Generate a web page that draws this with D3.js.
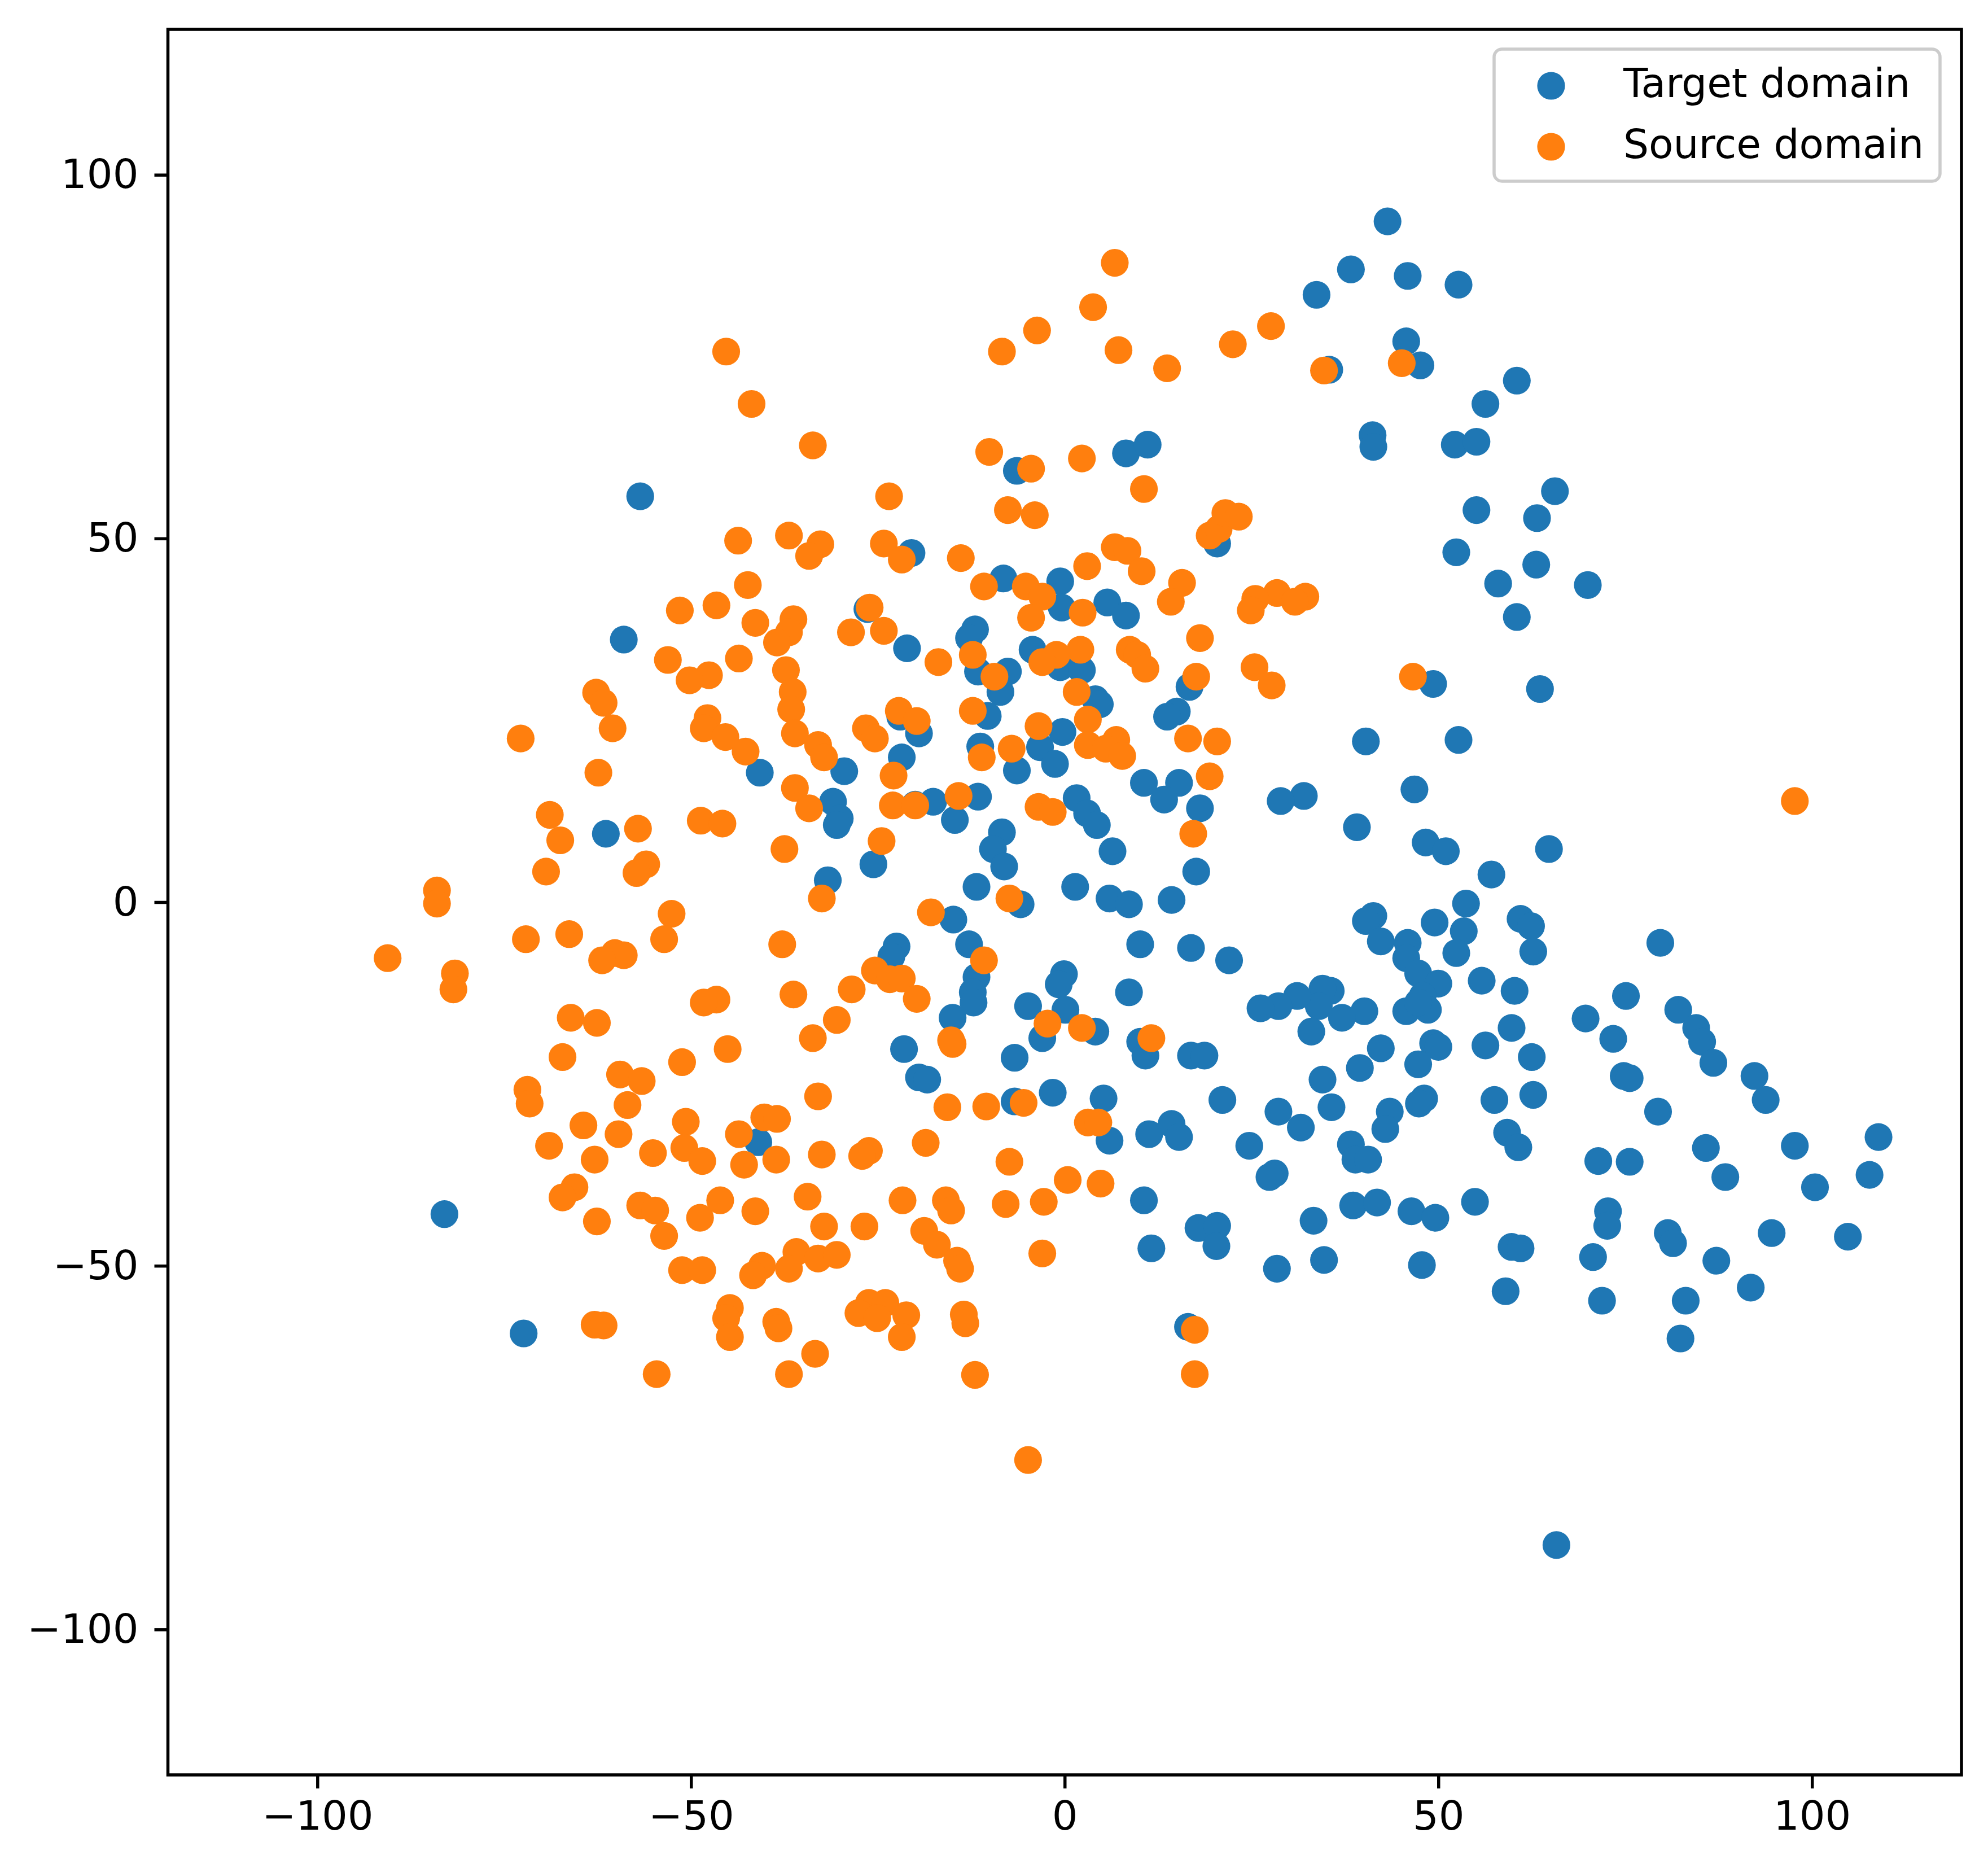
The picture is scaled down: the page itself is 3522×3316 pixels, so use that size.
<!DOCTYPE html>
<html><head><meta charset="utf-8">
<script src="https://cdn.jsdelivr.net/npm/d3@7/dist/d3.min.js"></script>
<style>html,body{margin:0;padding:0;background:#fff}svg{display:block}text{font-family:"DejaVu Sans";fill:#000}</style>
</head><body><svg id="c" width="3522" height="3316"></svg>
<script>
const seriesNames = ["Target domain","Source domain"];
const seriesColors = ["#1f77b4","#ff7f0e"];
const tickValues = [-100,-50,0,50,100];
const targetX = [43.3,38.4,46,52.8,33.8,45.8,47.7,35.5,60.6,56.4,41.3,41.4,52.3,55.2,65.7,55.2,63.3,52.5,63.2,58.1,70.1,60.6,49.4,63.7,40.4,52.8,46.9,39.2,32.1,29,48.4,51.1,64.9,57.2,53.8,53.5,52.5,61.1,62.5,62.8,49.6,41.4,40.4,42.4,46,45.8,47.4,55.9,50.1,48,60.3,45.8,48.7,47.4,40.2,37.2,35.7,34.6,34.1,31.2,28.7,26.3,33.1,42.4,49.4,50.1,56.4,59.9,62.6,47.4,39.6,34.6,48.2,47.5,57.6,62.8,35.8,28.7,43.6,43,31.7,59.3,60.8,38.4,24.8,39,40.7,28.2,27.5,38.7,41.9,46.5,49.7,55,33.4,34.8,47.9,28.5,59.9,61.1,59.1,70.8,72,72.8,72.7,71.5,75.7,69.8,73.5,75.2,79.8,82.2,84.6,85.4,86.9,74.9,75.7,79.5,92.4,93.9,85.9,88.5,97.8,109,100.5,107.8,104.9,94.7,80.8,81.5,87.3,91.9,83.2,82.5,65.9,
-56.7,-58.9,-6.3,8.3,11.2,-20.4,20.5,-8.1,-0.5,-0.3,5.8,8.3,-26.3,-11.9,-12.7,-4.2,-21,-11.5,-7.5,-8.5,-0.5,2.4,4.2,4.8,16.8,15.1,13.8,-10.2,-21.9,-19.4,-0.2,-11.2,-3.2,-21.7,-1.2,-6.3,-29.4,-40.7,10.7,15.4,1.7,13.4,-11.5,-19.9,-17.5,-30.9,3.1,18.2,-30,-30.4,-14.6,4.4,-61.3,-8.3,-9.5,6.5,-25.5,-8,17.7,-31.6,-11.7,1.5,6.1,8.7,14.4,-5.8,-14.8,-12.7,-22.4,-23.1,10.2,17,22.1,-11.7,0,-0.7,-12.2,-12.1,8.7,-4.8,0.2,-14.9,4.2,-2.9,10.2,10.9,17,18.8,-21.4,-6.6,-19.4,-18.3,-1.5,-6.6,5.3,21.2,6.1,11.4,14.4,15.4,-40.9,10.7,-82.9,18,20.5,20.4,11.7,-72.3,16.6];
const targetY = [93.6,87,86.1,84.9,83.5,77.1,73.8,73.2,71.7,68.5,64.2,62.6,62.9,63.3,56.5,53.9,52.8,48.1,46.4,43.8,43.6,39.2,30,29.3,22.1,22.3,15.5,10.3,14.6,13.9,8.2,7,7.3,3.8,-0.2,-4,-7,-2.3,-3.3,-6.8,-2.8,-1.9,-2.6,-5.4,-5.6,-7.7,-9.8,-10.8,-11.2,-12.9,-12.2,-15,-14.8,-13.8,-15,-15.9,-12.2,-11.9,-14.3,-12.9,-14.3,-14.6,-17.8,-20.1,-19.4,-19.9,-19.7,-17.3,-21.3,-22.3,-22.8,-24.4,-27,-27.7,-27.2,-26.5,-28.2,-28.8,-28.8,-31.2,-31,-31.7,-33.7,-33.3,-33.5,-35.4,-35.4,-37.3,-37.8,-41.7,-41.3,-42.5,-43.4,-41.2,-43.8,-49.2,-49.9,-50.4,-47.4,-47.6,-53.5,-48.8,-54.8,-42.5,-44.5,-35.6,-35.7,-16,-18.8,-12.9,-5.6,-14.8,-17.3,-19.2,-22.1,-23.9,-24.2,-28.8,-23.9,-27.2,-33.8,-37.8,-33.5,-32.3,-39.2,-37.5,-46,-45.5,-45.5,-46.9,-49.3,-53,-54.8,-60,-88.4,
55.8,36.1,59.3,61.7,62.9,48,49.3,44.5,44.1,40.5,41.2,39.4,40.3,37.5,36.3,34.7,34.9,31.7,31.7,28.9,32.3,31.9,27.9,27.2,29.6,26.2,25.5,25.6,25.5,23.2,23.4,21.4,21.3,19.9,19,18.1,18,17.8,16.4,16.4,14.3,14.1,14.5,13.4,13.8,13.8,12.2,12.9,11.5,10.6,11.3,10.6,9.4,9.6,7.3,7,5.2,4.9,4.2,3,2.1,2.1,0.5,-0.3,0.3,-0.3,-2.4,-5.8,-6.1,-7.5,-5.8,-6.3,-8,-10.3,-9.9,-11.3,-12.4,-13.8,-12.4,-14.3,-14.8,-15.9,-17.8,-18.7,-19.2,-21.1,-21.1,-21.1,-20.2,-21.4,-24.1,-24.4,-26.2,-27.4,-27,-27.2,-32.8,-31.9,-30.5,-32.3,-33,-41,-42.9,-44.8,-44.5,-47.3,-47.6,-59.3,-58.4];
const sourceX = [-45.2,-41.8,-33.6,-10,-4.4,2.4,-23.4,10.7,-7.5,-3.9,6.8,3.9,-8.3,-3.6,7.3,13.8,22.6,27.7,34.8,45.2,97.8,46.7,-43.6,-36.8,-32.6,-34.1,-24.1,-21.7,-13.8,6.8,8.5,3.1,10.4,15.8,19.5,20.7,21.6,23.4,-5.1,-10.7,-2.9,14.3,28.5,32.3,30.9,25.6,25,-42.3,-46.5,-51.4,-41.3,-36.2,-36.8,-38.4,-26,-28.5,-24.1,-4.4,2.5,18.2,8.8,9.8,10.9,2.2,-1,-2.9,-12.2,-16.8,-43.5,-53,-37.2,-47.5,-50.1,-9.3,17.7,25.5,27.8,-62.6,-61.6,-36.3,-36.5,1.7,-22.1,-12.2,-47.7,-48.2,-60.4,-26.5,-19.7,-3.4,3.2,-45.3,-36,-25.3,-72.7,20.5,16.6,7,3.2,5.6,7.8,-7,-42.6,-32.9,-32.1,-11,-62.3,-22.8,19.5,-36,-14.1,-34.1,-22.9,-19.9,-3.4,-1.5,-68.8,-48.6,-45.7,-57,17.3,-67.4,-24.4,-37.4,-55.9,-57.2,-69.3,-83.9,-83.9,-32.4,-7.3,-52.5,-17.8,-66.2,-72,-53.5,-37.7,-90.5,-60.1,-58.9,-61.8,-10.7,-25.3,-23.3,-21.7,-81.5,-81.7,-28.4,-36.2,-19.7,-46.5,-48.2,-66,-62.5,-30.4,-2.2,2.4,-33.6,11.7,-15.1,-14.9,-45,-67.1,-51.1,-59.4,-56.5,-71.8,-71.5,-32.9,-58.4,-5.4,-15.6,-10.4,-40.1,-38.4,-50.6,-64.3,3.2,4.6,-59.6,-43.5,-68.9,-18.5,-50.8,-55,-32.4,-26.1,-27,-62.8,-48.4,-38.5,-42.8,-7.3,0.5,4.9,-65.5,-67.1,-34.3,-21.6,-46,-15.8,-7.8,-2.7,-56.7,-54.7,-15.1,-41.3,-48.7,-62.5,-32.1,-26.7,-53.5,-18.7,-17,-35.8,-32.9,-30.4,-2.9,-14.3,-13.9,-40.4,-41.6,-36.8,-51.1,-48.4,-26.1,-23.9,-27.5,-25,-21.1,-44.7,-45.2,-13.4,-13.2,-38.5,-38.2,-62.8,-61.6,17.5,-44.7,-21.7,-33.3,-36.8,-54.5,-11.9,17.5,-4.8];
const sourceY = [75.7,68.5,62.8,61.9,59.6,61,55.8,56.8,53.9,53.2,87.9,81.8,75.7,78.6,75.9,73.4,76.7,79.2,73.1,74.1,13.9,31,49.7,50.4,49.2,47.6,49.3,47.1,47.3,48.8,48.3,46.2,45.5,43.9,50.4,51.3,53.5,53,43.4,43.4,42,41.3,42.5,42,41.3,41.7,40.1,43.6,40.8,40.1,38.4,38.9,37.1,35.7,40.5,37.1,37.3,39.1,39.8,36.3,34.7,34,32.1,34.7,34,33,34,33,33.5,33.3,31.9,31.2,30.5,31,31,32.3,29.8,28.8,27.4,28.9,26.5,28.9,26.3,26.3,25.3,23.9,23.9,23.9,24.9,24.2,25.1,22.7,23.2,22.5,22.5,22.1,22.5,22.3,21.6,21.1,20.1,21.1,20.7,21.6,19.9,19.9,17.8,17.4,17.3,15.7,14.6,12.9,13.3,13.3,13.1,12.4,12,11.2,10.8,10.1,9.4,8.5,8.4,7.3,5.2,4,4.2,1.6,-0.2,0.5,0.5,-1.6,-1.4,-4.4,-5.1,-5.1,-5.8,-7.7,-7,-7.3,-8,-8,-9.4,-10.6,-10.5,-9.8,-12,-12,-12.7,-13.3,-13.4,-13.8,-15.9,-16.6,-16.2,-16.7,-17.3,-18.7,-18.7,-19,-19.5,-20.2,-21.3,-22,-23.7,-24.6,-25.8,-27.7,-26.7,-27.9,-27.6,-28.2,-28.1,-29.6,-29.8,-30.2,-30.7,-30.3,-30.3,-31.9,-31.9,-33.5,-33.1,-33.8,-34.5,-34.7,-34.2,-34.9,-35.4,-35.6,-35.4,-36.1,-35.7,-38.2,-38.7,-39.2,-40.6,-40.5,-41,-41,-41,-41.5,-41.2,-41.7,-42.4,-42.4,-42.5,-43.4,-43.9,-44.6,-44.6,-45.9,-45.2,-47.1,-48.1,-49,-48.5,-48.3,-49.3,-50.4,-50,-51.3,-50.4,-50.6,-50.6,-55.1,-55.1,-56.5,-57.2,-56.8,-55.8,-57.2,-56.7,-57.9,-57.7,-58.6,-58.1,-58.2,-58.8,-59.8,-59.8,-62.1,-64.9,-64.9,-65,-64.9,-76.7];
const xReadCorrection = -0.1;

const plot = {left:297.5,right:3475,top:52,bottom:3144};
const tickFont = 72, legendFont = 71, lw = 5.5, tickLen = 24, radius = 24.6;
const x = d3.scaleLinear().domain([-120,120]).range([plot.left,plot.right]);
const y = d3.scaleLinear().domain([-120,120]).range([plot.bottom,plot.top]);
const svg = d3.select("#c");
const fmt = d => String(d).replace("-","\u2212");

[[targetX,targetY],[sourceX,sourceY]].forEach(([xs,ys],k)=>{
  svg.append("g").selectAll("circle").data(xs.map((v,i)=>[v+xReadCorrection,ys[i]])).join("circle")
    .attr("cx",d=>x(d[0])).attr("cy",d=>y(d[1])).attr("r",radius).attr("fill",seriesColors[k]);
});

const xAxis = svg.append("g").attr("transform",`translate(0,${plot.bottom})`)
  .call(d3.axisBottom(x).tickValues(tickValues).tickFormat(fmt).tickSize(tickLen).tickPadding(22));
const yAxis = svg.append("g").attr("transform",`translate(${plot.left},0)`)
  .call(d3.axisLeft(y).tickValues(tickValues).tickFormat(fmt).tickSize(tickLen).tickPadding(28));
[xAxis,yAxis].forEach(a=>{
  a.select(".domain").remove();
  a.selectAll("line").attr("stroke","#000").attr("stroke-width",lw);
  a.selectAll("text").attr("font-size",tickFont).attr("font-family","DejaVu Sans").attr("fill","#000");
});
svg.append("rect").attr("x",plot.left).attr("y",plot.top).attr("width",plot.right-plot.left).attr("height",plot.bottom-plot.top)
  .attr("fill","none").attr("stroke","#000").attr("stroke-width",lw);

const lg = svg.append("g");
lg.append("rect").attr("x",2647).attr("y",87).attr("width",790).attr("height",234).attr("rx",14)
  .attr("fill","#fff").attr("fill-opacity",0.8).attr("stroke","#ccc").attr("stroke-width",lw);
seriesNames.forEach((n,i)=>{
  const cy = 152 + i*108;
  lg.append("circle").attr("cx",2748).attr("cy",cy).attr("r",radius).attr("fill",seriesColors[i]);
  lg.append("text").attr("x",2876).attr("y",cy+20).attr("font-size",legendFont).text(n);
});
</script></body></html>
